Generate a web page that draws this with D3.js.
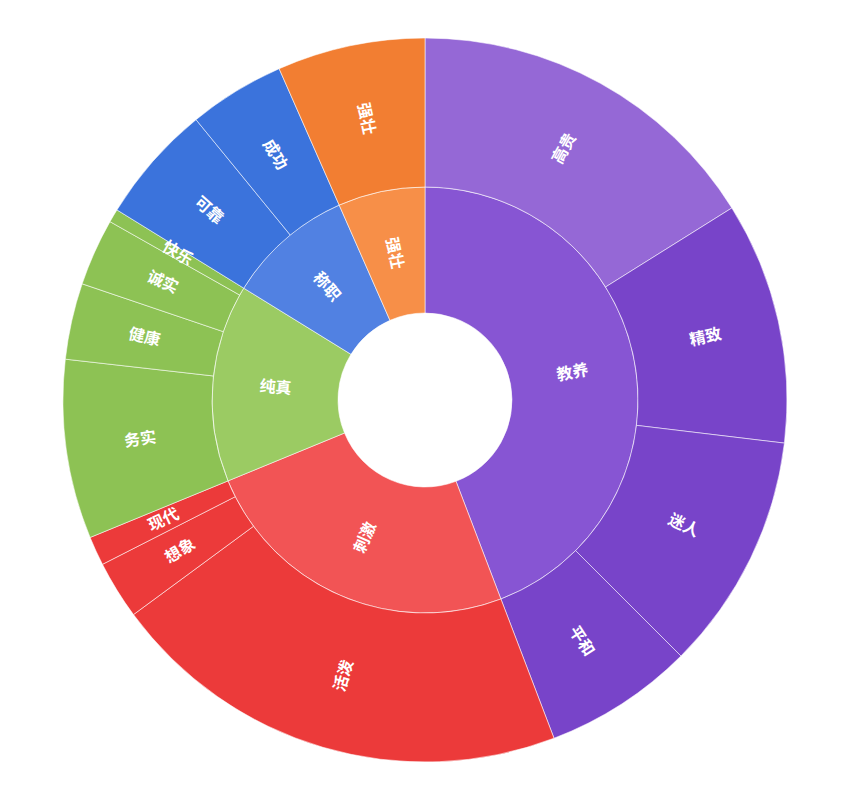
<!DOCTYPE html>
<html>
<head>
<meta charset="utf-8">
<script src="https://cdn.jsdelivr.net/npm/d3@7/dist/d3.min.js"></script>
<style>
html,body{margin:0;padding:0;background:#fff;}
svg{display:block;}
</style>
</head>
<body>
<svg id="chart" width="860" height="793"></svg>
<script>
// ---- data ----
const categories = ["教养", "刺激", "纯真", "称职", "强壮"];
const categoryColors = ["#8755d3", "#f25455", "#9bcb63", "#5181e2", "#f78f48"];
const childNames = [
  ["高贵", "精致", "迷人", "平和"],
  ["活泼", "想象", "现代"],
  ["务实", "健康", "诚实", "快乐"],
  ["可靠", "成功"],
  ["强壮"]
];
const childValues = [
  [16.1, 10.8, 10.6, 6.7],
  [20.7, 2.6, 1.3],
  [8.0, 3.4, 3.0, 0.6],
  [5.3, 4.3],
  [6.6]
];
const childColors = [
  ["#9568d6", "#7844c9", "#7844c9", "#7844c9"],
  ["#ec3a3a", "#ec3a3a", "#ec3a3a"],
  ["#8dc254", "#8dc254", "#8dc254", "#8dc254"],
  ["#3b73dc", "#3b73dc"],
  ["#f27e32"]
];

// ---- layout ----
const cx = 425, cy = 400;
const ringRadii = [87, 213, 362];

const root = d3.hierarchy({
  name: "root",
  children: categories.map((c, i) => ({
    name: c, color: categoryColors[i],
    children: childNames[i].map((n, j) => ({ name: n, value: childValues[i][j], color: childColors[i][j] }))
  }))
}).sum(d => d.value || 0);

d3.partition().size([2 * Math.PI, 1])(root);

const rInner = d3.scaleOrdinal().domain([1, 2]).range([ringRadii[0], ringRadii[1]]);
const rOuter = d3.scaleOrdinal().domain([1, 2]).range([ringRadii[1], ringRadii[2]]);

const arc = d3.arc()
  .startAngle(d => d.x0)
  .endAngle(d => d.x1)
  .innerRadius(d => rInner(d.depth))
  .outerRadius(d => rOuter(d.depth));

const svg = d3.select("#chart");
const g = svg.append("g").attr("transform", `translate(${cx},${cy})`);

const nodes = root.descendants().filter(d => d.depth > 0);

g.selectAll("path")
  .data(nodes)
  .join("path")
  .attr("d", arc)
  .attr("fill", d => d.data.color)
  .attr("stroke", "rgba(255,255,255,0.55)")
  .attr("stroke-width", 1);

g.selectAll("text")
  .data(nodes)
  .join("text")
  .attr("transform", d => {
    const a = (d.x0 + d.x1) / 2;
    const r = (rInner(d.depth) + rOuter(d.depth)) / 2;
    const x = r * Math.sin(a), y = -r * Math.cos(a);
    let rot = a * 180 / Math.PI - 90;
    if (a > Math.PI) rot += 180;
    return `translate(${x},${y}) rotate(${rot})`;
  })
  .attr("text-anchor", "middle")
  .attr("dominant-baseline", "central")
  .attr("dy", -2)
  .attr("fill", "#fff")
  .attr("font-family", "'Noto Sans CJK SC', sans-serif")
  .attr("font-weight", "bold")
  .attr("font-size", 16)
  .text(d => d.data.name);
</script>
</body>
</html>
